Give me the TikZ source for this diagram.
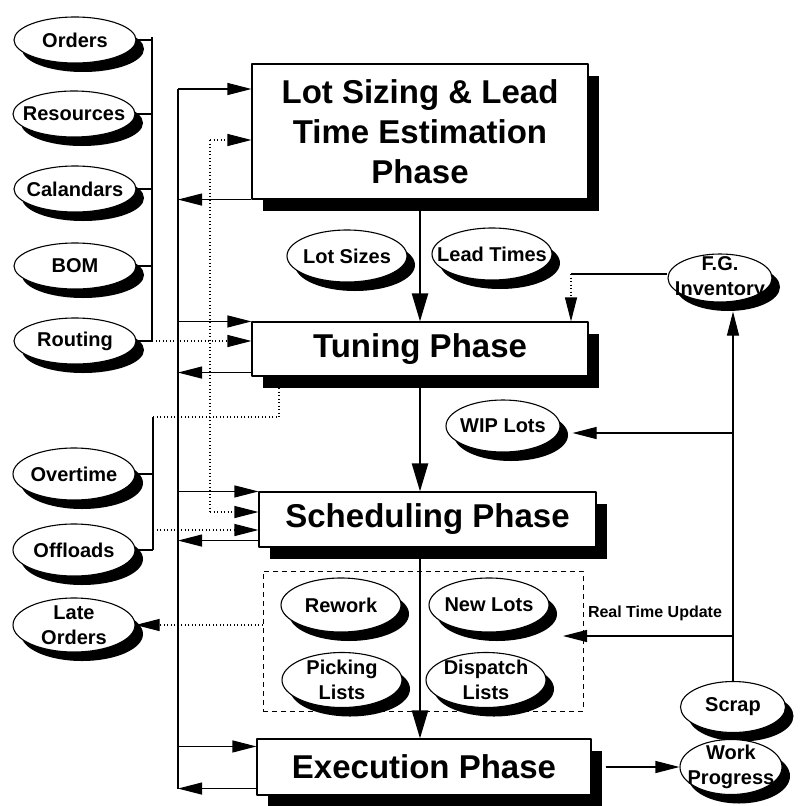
\documentclass[tikz,border=0pt]{standalone}
\usepackage{fontspec}
\setmainfont{Liberation Sans}
\usetikzlibrary{arrows.meta,shapes.geometric,shadows}
\tikzset{
  phase/.style={draw, fill=white, inner sep=0pt, align=center,
    font=\fontsize{33}{40}\selectfont\bfseries,
    drop shadow={shadow xshift=10.5pt, shadow yshift=-11.5pt, fill=black, opacity=1}},
  data/.style={ellipse, draw, fill=white, inner xsep=-20pt, inner ysep=-14pt, align=center,
    minimum width=120pt, minimum height=52pt,
    font=\fontsize{20}{24.5}\selectfont\bfseries,
    drop shadow={shadow xshift=8pt, shadow yshift=-9pt, fill=black, opacity=1}},
  dotline/.style={dash pattern=on 0.9pt off 2.6pt},
  mainflow/.style={line width=2.4pt, -{Triangle[length=28pt,width=16pt]}},
}
\begin{document}
\begin{tikzpicture}[x=1pt, y=-1pt, line width=1.1pt, line join=round, >={Triangle[length=24pt,width=12pt]}]
\path[use as bounding box, fill=white] (0,0) rectangle (803,806);

% the four phases
\node[phase, minimum width=336pt, minimum height=135pt] (lot) at (420,131.5) {Lot Sizing \& Lead\\Time Estimation\\Phase};
\node[phase, minimum width=336pt, minimum height=54pt] (tun) at (420,349) {Tuning Phase};
\node[phase, minimum width=337pt, minimum height=55pt] (sch) at (427.5,519.5) {Scheduling Phase};
\node[phase, minimum width=334pt, minimum height=56pt] (exe) at (424,767) {Execution Phase};

% inputs on the left
\node[data, minimum width=122pt, minimum height=46pt] (ord) at (75,40) {Orders};
\node[data, minimum width=122pt, minimum height=46pt] (res) at (74,114) {Resources};
\node[data, minimum width=122pt, minimum height=46pt] (cal) at (75,189) {Calandars};
\node[data, minimum width=122pt, minimum height=46pt] (bom) at (75,266) {BOM};
\node[data, minimum width=122pt, minimum height=46pt] (rout) at (75,341) {Routing};
\node[data, minimum width=122pt] (over) at (74,474) {Overtime};
\node[data, minimum width=122pt] (off) at (74,550) {Offloads};
\node[data, minimum width=122pt, minimum height=54pt] (late) at (74,625) {Late\\Orders};

% data passed between phases
\node[data] (lots) at (347,256) {Lot Sizes};
\node[data] (lead) at (492,254) {Lead Times};
\node[data, minimum width=114pt] (wip) at (503,426) {WIP Lots};
\node[draw, dash pattern=on 5pt off 4pt, line width=1pt, inner sep=0pt, minimum width=320pt, minimum height=140pt] (outbox) at (423,641) {};
\node[data, minimum height=54pt] (rew) at (341,605) {Rework};
\node[data, minimum height=54pt] (new) at (489,605) {New Lots};
\node[data, minimum height=55pt] (pick) at (342,680) {Picking\\Lists};
\node[data, minimum height=55pt] (disp) at (486,680) {Dispatch\\Lists};

% shop floor feedback
\node[data, minimum width=104pt, minimum height=48pt] (fg) at (720,278) {F.G.\\Inventory};
\node[data, minimum width=105pt, minimum height=51pt] (scrap) at (733,707) {Scrap};
\node[data, minimum width=102pt, minimum height=55pt] (work) at (731,767) {Work\\Progress};
\node[font=\fontsize{16}{19}\selectfont\bfseries] (rtul) at (655,613) {Real Time Update};

% main flow
\draw[mainflow] (lot.south) -- (tun.north);
\draw[mainflow] (tun.south) -- (tun.south |- sch.north);
\draw[mainflow] (sch.south -| tun.south) -- (exe.north -| tun.south);

% bus of the static inputs
\coordinate (busT) at (152,37);
\coordinate (busB) at (152,341);
\draw (busT) -- (busB);
\foreach \n in {ord,res,cal,bom,rout} \draw (\n.east) -- (\n.east -| busT);
\draw[dotline,->] (busB) -- (busB -| tun.west);

% spine feeding every phase
\coordinate (spT) at (178,89);
\coordinate (lotR) at (lot.south west);
\coordinate (tunR) at ([yshift=4pt]tun.south west);
\coordinate (schR) at ([yshift=7pt]sch.south west);
\coordinate (exeR) at ([yshift=7pt]exe.south west);
\coordinate (exeI) at ([yshift=-8pt]exe.north west);
\draw (spT) -- (spT |- exeR);
\draw[->] (spT) -- (spT -| lot.west);
\draw[->] (tun.north west -| spT) -- (tun.north west);
\draw[->] (sch.north west -| spT) -- (sch.north west);
\draw[->] (exeI -| spT) -- (exeI);
\foreach \r in {lotR,tunR,schR,exeR} \draw[->] (\r) -- (\r -| spT);

% capacity adjustments
\coordinate (brT) at (153,417);
\coordinate (offD) at (153,530);
\coordinate (tunD) at (279,388);
\draw (brT) -- (brT |- off.east);
\draw (over.east) -- (over.east -| brT);
\draw (off.east) -- (off.east -| brT);
\draw[dotline] (tunD) -- (tunD |- brT) -- (brT);
\draw[dotline,->] (offD) -- (offD -| sch.west);
\coordinate (dtT) at (210,140);
\coordinate (dtB) at (210,512);
\draw[dotline] (dtT) -- (dtB);
\draw[dotline,->] (dtT) -- (dtT -| lot.west);
\draw[dotline,->] (dtB) -- (dtB -| sch.west);
\draw[dotline,->] (outbox.west |- late.east) -- (late.east);

% finished goods and floor updates
\coordinate (fgc) at (571,274);
\coordinate (fgin) at ([yshift=-9pt]fg.south);
\coordinate (wipin) at ([xshift=12pt,yshift=-7pt]wip.east);
\coordinate (rtu) at (563,636);
\coordinate (exeO) at ([xshift=14pt]exe.east);
\draw (fg.west |- fgc) -- (fgc);
\draw[dotline,->] (fgc) -- (fgc |- tun.north);
\draw[->] (scrap.north) -- (scrap.north |- fgin);
\draw[->] (scrap.north |- wipin) -- (wipin);
\draw[->] (scrap.north |- rtu) -- (rtu);
\draw[->] (exeO) -- (work.west);
\end{tikzpicture}
\end{document}
